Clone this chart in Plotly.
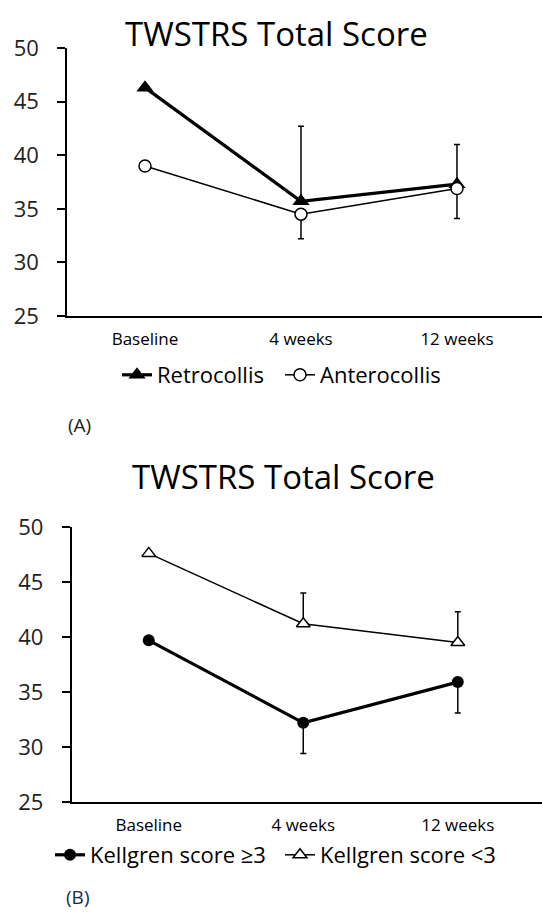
import plotly.graph_objects as go

# ---- data ----
categories = ["Baseline", "4 weeks", "12 weeks"]
x_pos = [0, 1, 2]
yticks = [25, 30, 35, 40, 45, 50]

retro = [46.3, 35.7, 37.3]
retro_err_up = [None, 7.0, 3.7]
antero = [39.0, 34.5, 36.9]
antero_err_down = [None, 2.3, 2.8]

kg_high = [39.7, 32.2, 35.9]
kg_high_err_down = [None, 2.8, 2.8]
kg_low = [47.6, 41.2, 39.5]
kg_low_err_up = [None, 2.8, 2.8]

title_text = "TWSTRS Total Score"
FONT = "Open Sans"
W, H = 542, 916


def err(up, down):
    return dict(type="data", symmetric=False, array=up, arrayminus=down,
                color="black", thickness=1.5, width=3)


none3 = [None, None, None]

fig = go.Figure()

# Panel A
fig.add_trace(go.Scatter(x=x_pos, y=retro, name="Retrocollis", mode="lines+markers",
    line=dict(color="black", width=3.2),
    marker=dict(symbol="triangle-up", size=15, color="black"),
    error_y=err(retro_err_up, none3),
    xaxis="x", yaxis="y", legend="legend"))
fig.add_trace(go.Scatter(x=x_pos, y=antero, name="Anterocollis", mode="lines+markers",
    line=dict(color="black", width=1.5),
    marker=dict(symbol="circle", size=12, color="white", line=dict(color="black", width=1.5)),
    error_y=err(none3, antero_err_down),
    xaxis="x", yaxis="y", legend="legend"))

# Panel B
fig.add_trace(go.Scatter(x=x_pos, y=kg_high, name="Kellgren score ≥3", mode="lines+markers",
    line=dict(color="black", width=3.2),
    marker=dict(symbol="circle", size=12, color="black"),
    error_y=err(none3, kg_high_err_down),
    xaxis="x2", yaxis="y2", legend="legend2"))
fig.add_trace(go.Scatter(x=x_pos, y=kg_low, name="Kellgren score <3", mode="lines+markers",
    line=dict(color="black", width=1.5),
    marker=dict(symbol="triangle-up", size=12, color="white", line=dict(color="black", width=1.5)),
    error_y=err(kg_low_err_up, none3),
    xaxis="x2", yaxis="y2", legend="legend2"))


def px_y(p):
    return 1 - p / H


xcommon = dict(tickvals=x_pos, ticktext=categories, range=[-0.5, 2.545],
               showline=True, linecolor="black", linewidth=1.5, showgrid=False,
               zeroline=False, ticks="", ticklabelstandoff=7, automargin=False,
               tickfont=dict(family=FONT, size=17, color="black"), fixedrange=True)
ycommon = dict(range=[25, 50], tickvals=yticks, showline=True, linecolor="black",
               linewidth=1.5, showgrid=False, zeroline=False, ticks="outside",
               ticklen=8, tickwidth=1.5, tickcolor="black", ticklabelstandoff=14,
               automargin=False,
               tickfont=dict(family=FONT, size=22, color="#222"), fixedrange=True)

fig.update_layout(
    width=W, height=H, margin=dict(l=0, r=0, t=0, b=0, autoexpand=False),
    paper_bgcolor="white", plot_bgcolor="white",
    xaxis=dict(domain=[67 / W, 1.0], anchor="y", **xcommon),
    yaxis=dict(domain=[px_y(316), px_y(48)], anchor="x", **ycommon),
    xaxis2=dict(domain=[71.5 / W, 1.0], anchor="y2", **xcommon),
    yaxis2=dict(domain=[px_y(802), px_y(527)], anchor="x2", **ycommon),
    legend=dict(orientation="h", x=117 / W, y=px_y(375), xanchor="left", yanchor="middle",
                font=dict(family=FONT, size=22, color="black"), itemwidth=30,
                entrywidth=118, entrywidthmode="pixels",
                bgcolor="rgba(0,0,0,0)", tracegroupgap=0),
    legend2=dict(orientation="h", x=50 / W, y=px_y(855), xanchor="left", yanchor="middle",
                 font=dict(family=FONT, size=22, color="black"), itemwidth=30,
                 entrywidth=185, entrywidthmode="pixels",
                 bgcolor="rgba(0,0,0,0)", tracegroupgap=0),
    showlegend=True,
    annotations=[
        dict(text=title_text, x=276 / W, y=px_y(33), xref="paper", yref="paper",
             showarrow=False, xanchor="center", yanchor="middle",
             font=dict(family=FONT, size=33, color="black")),
        dict(text=title_text, x=283 / W, y=px_y(477), xref="paper", yref="paper",
             showarrow=False, xanchor="center", yanchor="middle",
             font=dict(family=FONT, size=33, color="black")),
        dict(text="(A)", x=66 / W, y=px_y(425), xref="paper", yref="paper",
             showarrow=False, xanchor="left", yanchor="middle",
             font=dict(family=FONT, size=19, color="#222")),
        dict(text="(B)", x=64 / W, y=px_y(897), xref="paper", yref="paper",
             showarrow=False, xanchor="left", yanchor="middle",
             font=dict(family=FONT, size=19, color="#1c2a48")),
    ],
)

fig.write_html("out.html", config={"displayModeBar": False},
               post_script="document.body.style.margin='0px';document.body.style.overflow='hidden';")
